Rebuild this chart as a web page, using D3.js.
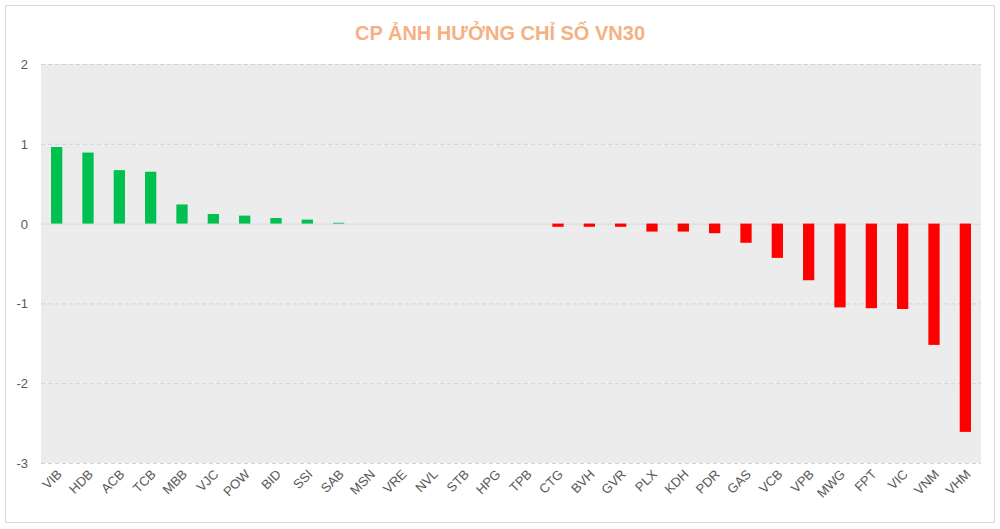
<!DOCTYPE html>
<html><head><meta charset="utf-8">
<script src="https://cdn.jsdelivr.net/npm/d3@7"></script>
<style>body{margin:0;background:#fff;font-family:"Liberation Sans",Arial,sans-serif}</style>
</head><body>
<script>
var tickers = ["VIB","HDB","ACB","TCB","MBB","VJC","POW","BID","SSI","SAB","MSN","VRE","NVL","STB","HPG","TPB","CTG","BVH","GVR","PLX","KDH","PDR","GAS","VCB","VPB","MWG","FPT","VIC","VNM","VHM"];
var impact = [0.96,0.89,0.67,0.65,0.24,0.12,0.10,0.07,0.05,0.01,0,0,0,0,0,0,-0.04,-0.04,-0.04,-0.10,-0.10,-0.12,-0.24,-0.43,-0.71,-1.05,-1.06,-1.07,-1.52,-2.61];
var yTicks = [2,1,0,-1,-2,-3];

var W = 1000, H = 529;
var svg = d3.select("body").append("svg").attr("width", W).attr("height", H);
svg.append("rect").attr("x",5.5).attr("y",5.5).attr("width",989).attr("height",517)
    .attr("fill","#fff").attr("stroke","#d9d9d9");

var plotL = 41, plotR = 981, plotT = 64, plotB = 463;
var x = d3.scaleBand().domain(tickers).range([plotL, plotR]).paddingInner(0.64).paddingOuter(0.32);
var y = d3.scaleLinear().domain([-3, 2]).range([plotB, plotT]);

svg.append("rect").attr("x",plotL).attr("y",plotT).attr("width",plotR-plotL).attr("height",plotB-plotT).attr("fill","#ececec");

svg.selectAll(".grid").data(yTicks).enter().append("line")
    .attr("x1",plotL).attr("x2",plotR)
    .attr("y1",d=>y(d)+0.5).attr("y2",d=>y(d)+0.5)
    .attr("stroke",d=>d===0?"#d9d9d9":"#bdd7ee").attr("stroke-dasharray",d=>d===0?null:"4,3");

svg.selectAll(".yl").data(yTicks).enter().append("text")
    .attr("x",28).attr("y",d=>y(d)+5).attr("text-anchor","end")
    .attr("font-size",13).attr("fill","#595959").text(d=>d);

svg.selectAll(".bar").data(impact).enter().append("rect")
    .attr("x",(d,i)=>x(tickers[i])).attr("width",x.bandwidth())
    .attr("y",d=>y(Math.max(0,d))).attr("height",d=>Math.abs(y(d)-y(0)))
    .attr("fill",d=>d>=0?"#00c050":"#ff0000");

svg.selectAll(".xl").data(tickers).enter().append("text")
    .attr("transform",d=>"translate("+(x(d)+x.bandwidth()/2+6)+","+(plotB+12)+") rotate(-45)")
    .attr("text-anchor","end").attr("font-size",13).attr("fill","#595959").text(d=>d);

svg.append("text").attr("x",500).attr("y",40).attr("text-anchor","middle")
    .attr("font-size",20).attr("font-weight","bold").attr("fill","#f4b183")
    .text("CP ẢNH HƯỞNG CHỈ SỐ VN30");
</script>
</body></html>
